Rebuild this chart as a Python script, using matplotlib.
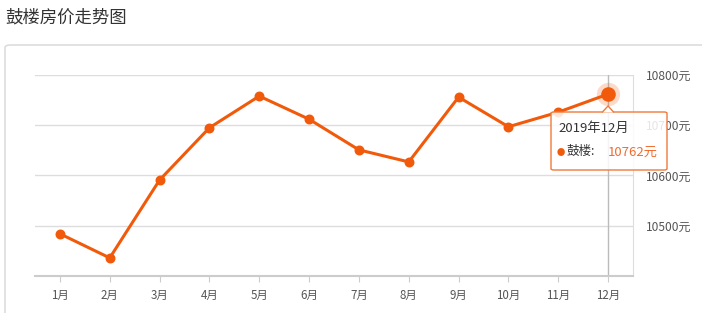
import matplotlib
matplotlib.use("Agg")
import matplotlib.pyplot as plt
from matplotlib.patches import FancyBboxPatch, Polygon
import numpy as np

plt.rcParams['font.family'] = ['Noto Sans CJK SC', 'DejaVu Sans']

title = "鼓楼房价走势图"
months = ["1月", "2月", "3月", "4月", "5月", "6月", "7月", "8月", "9月", "10月", "11月", "12月"]
prices = [10484, 10436, 10591, 10695, 10758, 10712, 10651, 10627, 10756, 10697, 10726, 10762]
yticks = [10500, 10600, 10700, 10800]
series_name = "鼓楼"
tooltip_title = "2019年12月"

W, H = 702, 313
fig = plt.figure(figsize=(W / 100, H / 100), dpi=100)

def fx(px):
    return px / W

def fy(py):
    return 1 - py / H

# panel border
panel = FancyBboxPatch((fx(5), fy(330)), fx(720), fy(45) - fy(330),
                       boxstyle="round,pad=0,rounding_size=0.008",
                       transform=fig.transFigure, facecolor="white",
                       edgecolor="#dddddd", linewidth=1.2, zorder=-5)
fig.patches.append(panel)

fig.text(fx(5), fy(17), title, fontsize=12.5, color="#333333", va="center", ha="left")

ax = fig.add_axes([fx(35), fy(276), fx(633) - fx(35), fy(75) - fy(276)])
ax.set_zorder(1)
ax.set_facecolor("none")
x = np.arange(len(months))
color = "#f25a0b"
ax.plot(x, prices, color=color, linewidth=2.2, zorder=3)
ax.scatter(x[:-1], prices[:-1], s=38, color=color, zorder=4)
ax.scatter(x[-1:], prices[-1:], s=280, color=color, alpha=0.22, zorder=4, linewidths=0)
ax.scatter(x[-1:], prices[-1:], s=90, color=color, zorder=5)

ax.set_xlim(-0.5, len(months) - 0.5)
ax.set_ylim(10400, 10800)
ax.set_yticks(yticks)
ax.set_yticklabels([f"{v}元" for v in yticks])
ax.yaxis.tick_right()
ax.tick_params(axis='y', length=0, pad=9, labelsize=8.6, labelcolor="#555555")
ax.set_xticks(x)
ax.set_xticklabels(months)
ax.tick_params(axis='x', length=4, color="#cccccc", pad=5, labelsize=8.3, labelcolor="#555555")
ax.grid(axis='y', color="#dddddd", linewidth=1)
for s in ['top', 'left']:
    ax.spines[s].set_visible(False)
ax.spines['right'].set_color("#dddddd")
ax.spines['bottom'].set_color("#cccccc")
ax.spines['bottom'].set_linewidth(1.5)

# axis pointer
ax.axvline(x[-1], color="#bbbbbb", linewidth=1, zorder=2)

# tooltip
tb = FancyBboxPatch((fx(551), fy(170)), fx(667) - fx(551), fy(112) - fy(170),
                    boxstyle="round,pad=0,rounding_size=0.004",
                    transform=fig.transFigure, facecolor=(1, 1, 1, 0.85),
                    edgecolor="#f07a3a", linewidth=1, zorder=10)
fig.patches.append(tb)
arrow = Polygon([[fx(602), fy(112.5)], [fx(608), fy(106)], [fx(614), fy(112.5)]],
                closed=False, transform=fig.transFigure, facecolor="white",
                edgecolor="#f07a3a", linewidth=1, zorder=11)
fig.patches.append(arrow)
fig.text(fx(558), fy(128), tooltip_title, fontsize=9.5, color="#333333", va="center", ha="left", zorder=12)
fig.text(fx(557), fy(152), "●", fontsize=6, color=color, va="center", ha="left", zorder=12)
fig.text(fx(567), fy(152), f"{series_name}:", fontsize=9, color="#333333", va="center", ha="left", zorder=12)
fig.text(fx(608), fy(152), f"{prices[-1]}元", fontsize=9.5, color="#f26b2e", va="center", ha="left", zorder=12)

fig.savefig("out.png", dpi=100)
